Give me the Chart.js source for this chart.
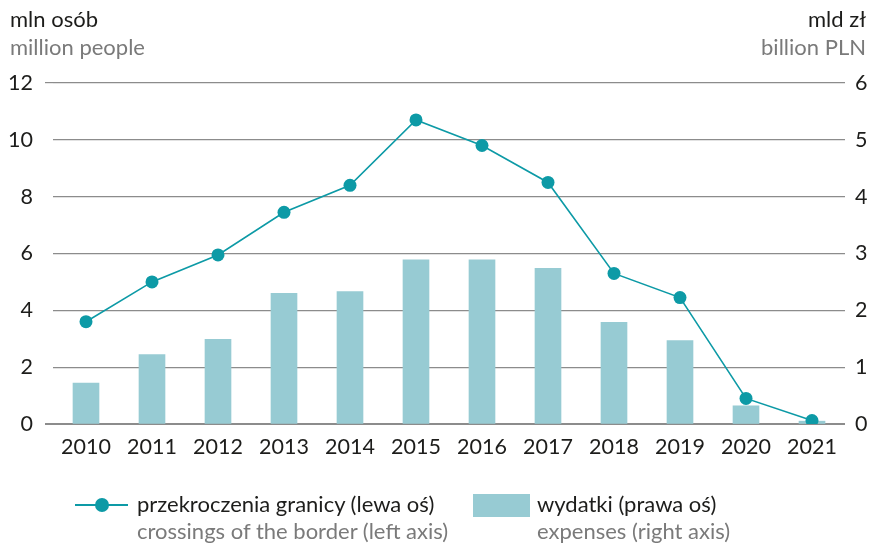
<!DOCTYPE html>
<html>
<head>
<meta charset="utf-8">
<script src="https://cdn.jsdelivr.net/npm/chart.js@4.4.1/dist/chart.umd.min.js"></script>
<style>
    body { margin: 0; background: #ffffff; font-family: Lato, "Open Sans", sans-serif; }
    #wrap { position: relative; width: 874px; height: 543px; overflow: hidden; }
    #chart { position: absolute; left: 0; top: 0; }
    .t { position: absolute; white-space: nowrap; font-size: 22px; line-height: 26px; }
    .dark { color: #1d1d1b; }
    .grey { color: #7a7a7a; }
</style>
</head>
<body>
<div id="wrap">
    <canvas id="chart" width="874" height="543"></canvas>

    <div class="t dark" style="left:10px; top:6px;">mln osób</div>
    <div class="t grey" style="left:10px; top:34px;">million people</div>
    <div class="t dark" style="right:8px; top:6px; text-align:right;">mld zł</div>
    <div class="t grey" style="right:8px; top:34px; text-align:right;">billion PLN</div>

    <!-- legend -->
    <div style="position:absolute; left:75px; top:504px; width:53px; height:2px; background:#0d9aa6;"></div>
    <div style="position:absolute; left:95px; top:498px; width:14px; height:14px; border-radius:50%; background:#0d9aa6;"></div>
    <div class="t dark" style="left:137px; top:491px;">przekroczenia granicy (lewa oś)</div>
    <div class="t grey" style="left:137px; top:518px;">crossings of the border (left axis)</div>

    <div style="position:absolute; left:473px; top:494px; width:57px; height:23px; background:#97cbd3;"></div>
    <div class="t dark" style="left:537px; top:491px;">wydatki (prawa oś)</div>
    <div class="t grey" style="left:537px; top:518px;">expenses (right axis)</div>
</div>

<script>
/* ===============================
   DATA
=============================== */

const years = ["2010", "2011", "2012", "2013", "2014", "2015",
               "2016", "2017", "2018", "2019", "2020", "2021"];

// border crossings, million people (left axis)
const crossings = [3.6, 5.0, 5.95, 7.45, 8.4, 10.7,
                   9.8, 8.5, 5.3, 4.45, 0.9, 0.12];

// expenses, billion PLN (right axis)
const expenses = [0.72, 1.22, 1.49, 2.3, 2.33, 2.89,
                  2.89, 2.74, 1.79, 1.47, 0.32, 0.05];

const leftTicks = [0, 2, 4, 6, 8, 10, 12];
const rightTicks = [0, 1, 2, 3, 4, 5, 6];

/* ===============================
   CHART
=============================== */

const LINE_COLOR = "#0d9aa6";
const BAR_COLOR = "#97cbd3";
const TEXT_COLOR = "#1d1d1b";
const GRID_COLOR = "#8c8c8c";
const FONT = { family: "Lato, 'Open Sans', sans-serif", size: 21.5 };

new Chart(document.getElementById("chart"), {

    data: {
        labels: years,
        datasets: [
            {
                type: "line",
                data: crossings,
                yAxisID: "y",
                borderColor: LINE_COLOR,
                backgroundColor: LINE_COLOR,
                borderWidth: 1.6,
                pointRadius: 6.5,
                pointBorderWidth: 0,
                tension: 0,
                order: 0
            },
            {
                type: "bar",
                data: expenses,
                yAxisID: "y1",
                backgroundColor: BAR_COLOR,
                barThickness: 26,
                order: 1
            }
        ]
    },

    options: {
        responsive: false,
        animation: false,
        layout: {
            autoPadding: false,
            padding: { top: 83, left: 0, right: 0, bottom: 0 }
        },
        plugins: {
            legend: { display: false },
            tooltip: { enabled: false }
        },
        scales: {
            x: {
                grid: { display: false, drawTicks: false },
                border: { display: false },
                ticks: { color: TEXT_COLOR, font: FONT, padding: 10, maxRotation: 0 },
                afterFit: s => { s.height = 119; }
            },
            y: {
                position: "left",
                min: 0,
                max: 12,
                afterBuildTicks: s => { s.ticks = leftTicks.map(v => ({ value: v })); },
                grid: {
                    color: GRID_COLOR,
                    lineWidth: ctx => ctx.tick && ctx.tick.value === 0 ? 2 : 1.2,
                    drawTicks: true,
                    tickLength: 8,
                    tickColor: ctx => ctx.tick && (ctx.tick.value === 0 || ctx.tick.value === 12)
                        ? GRID_COLOR : "rgba(0,0,0,0)"
                },
                border: { display: false },
                ticks: { color: TEXT_COLOR, font: FONT, padding: 12 },
                afterFit: s => { s.width = 53; }
            },
            y1: {
                position: "right",
                min: 0,
                max: 6,
                afterBuildTicks: s => { s.ticks = rightTicks.map(v => ({ value: v })); },
                grid: { drawOnChartArea: false, drawTicks: false },
                border: { display: false },
                ticks: { color: TEXT_COLOR, font: FONT, padding: 10 },
                afterFit: s => { s.width = 29; }
            }
        }
    }

});
</script>
</body>
</html>
